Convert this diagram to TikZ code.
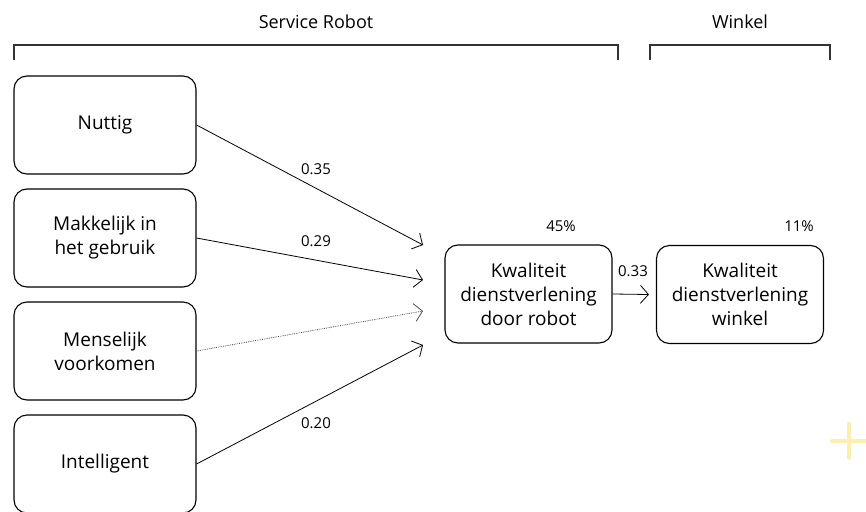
\documentclass[tikz,border=0pt]{standalone}
\usepackage{fontspec}
\setmainfont{Open Sans}
\usetikzlibrary{arrows.meta}
\definecolor{framegray}{HTML}{333333}
\definecolor{plusyellow}{HTML}{FCEDB0}
\begin{document}
\begin{tikzpicture}[x=1pt,y=-1pt,
  factor/.style={draw=black,line width=1.1pt,rounded corners=13pt,align=center,
    minimum width=182pt,minimum height=98pt,inner sep=0pt,
    font=\fontsize{19}{24}\selectfont},
  outcome/.style={draw=black,line width=1.1pt,rounded corners=13pt,align=center,
    minimum width=167pt,minimum height=98pt,inner sep=0pt,
    font=\fontsize{19}{24}\selectfont},
  path/.style={line width=0.8pt,-{Straight Barb[length=8pt,width=18pt,line width=0.8pt]}},
  weak/.style={path,densely dotted,draw=black!70},
  coef/.style={font=\fontsize{15}{18}\selectfont,inner sep=0pt},
  header/.style={font=\fontsize{18}{22}\selectfont,inner sep=0pt},
  bracket/.style={draw=framegray,line width=1.2pt}]
\useasboundingbox (0,0) rectangle (866,511);

% section headers with their brackets
\node[header] (hsr) at (316,22) {Service Robot};
\node[header] (hwk) at (740,22) {Winkel};
\draw[bracket] (14,60) -- (14,45) -- (618,45) -- (618,60);
\draw[bracket] (650,60) -- (650,45) -- (830,45) -- (830,60);

% predictor boxes
\node[factor] (nut) at (105,125) {Nuttig};
\node[factor] (mak) at (105,238) {Makkelijk in\\het gebruik};
\node[factor] (men) at (105,351) {Menselijk\\voorkomen};
\node[factor] (int) at (105,464) {Intelligent};

% outcome boxes
\node[outcome] (kdr) at (528.5,294) {Kwaliteit\\dienstverlening\\door robot};
\node[outcome] (kdw) at (740,294.5) {Kwaliteit\\dienstverlening\\winkel};

% arrow end points in front of the robot box
\coordinate (e1) at (423,245);
\coordinate (e2) at (423,280);
\coordinate (e3) at (423,311);
\coordinate (e4) at (423,345);

\draw[path] (nut.east) -- (e1);
\draw[path] (mak.east) -- (e2);
\draw[weak] (men.east) -- (e3);
\draw[path] (int.east) -- (e4);
\draw[path] (kdr.east) -- ([xshift=-7pt]kdw.west);

% path coefficients and explained variance
\node[coef] (c1) at (316,169) {0.35};
\node[coef] (c2) at (316,241) {0.29};
\node[coef] (c4) at (316,423) {0.20};
\node[coef] (c5) at (633,271) {0.33};
\node[coef] (r1) at (561,226) {45\%};
\node[coef] (r2) at (799,226) {11\%};

% decorative plus sign
\draw[plusyellow,line width=4pt,line cap=round] (832,441) -- (868,441);
\draw[plusyellow,line width=4pt,line cap=round] (849,424) -- (849,458);
\end{tikzpicture}
\end{document}
